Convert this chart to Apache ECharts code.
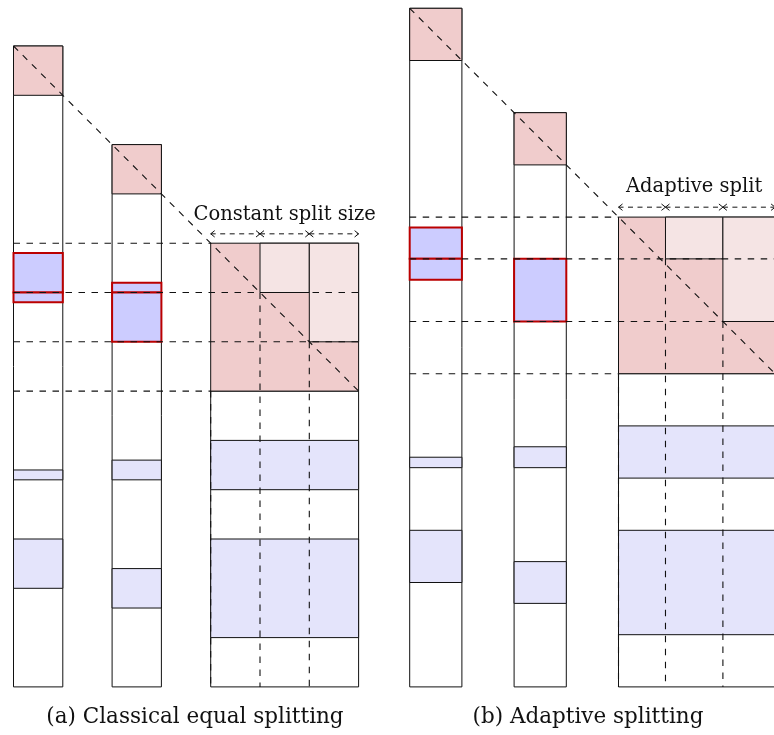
<!DOCTYPE html>
<html>
<head>
<meta charset="utf-8">
<script src="https://cdn.jsdelivr.net/npm/echarts@6/dist/echarts.min.js"></script>
<style>
html,body{margin:0;padding:0;background:#fff;}
#chart{width:774px;height:735px;}
</style>
</head>
<body>
<div id="chart"></div>
<script>
// ---------- data (diagram units: one block = 1) ----------
const columnHeight = 13;
const vectorColumns = [[0, 1], [2, 3]];          // x extent of the two vectors
const diagonalBlocks = [[0, 1], [2, 3]];         // pink diagonal blocks (also where each vector starts)
const matrixSpan = [4, 7];                       // x extent of the matrix
const vector1Bands = [[8.6, 8.8], [10, 11]];
const vector2Bands = [[8.4, 8.8], [10.6, 11.4]];
const matrixBands = [[8, 9], [10, 12]];

// panel (a) : classical equal splitting
const aRowSplits = [4, 5, 6, 7];
const aColSplits = [4, 5, 6, 7];
const aRed1 = [[4.2, 5], [5, 5.2]];
const aRed2 = [[4.8, 5], [5, 6]];

// panel (b) : adaptive splitting
const bRowSplits = [4, 4.8, 6, 7];
const bColSplits = [4, 4.9, 6, 7];
const bRed1 = [[4.2, 4.8], [4.8, 5.2]];
const bRed2 = [[4.8, 6]];

const splitLabels = ['Constant split size', 'Adaptive split'];
const splitLabelX = [5.5, 5.45];
const splitLabelY = 3.43;
const arrowY = 3.81;
const captions = ['(a) Classical equal splitting', '(b) Adaptive splitting'];

// ---------- styles ----------
const INK = '#111';
const FONT = '"DejaVu Serif", serif';
const C_PINK = '#f0cccc', C_LIGHT = '#f5e4e4', C_BAND = '#e4e4fb', C_RED_FILL = '#ccccff', C_RED = '#bb0000';

function rectRender(fill, stroke, lw) {
  return function (params, api) {
    const p0 = api.coord([api.value(0), api.value(2)]);
    const p1 = api.coord([api.value(1), api.value(3)]);
    return {
      type: 'rect',
      shape: { x: Math.min(p0[0], p1[0]), y: Math.min(p0[1], p1[1]),
               width: Math.abs(p1[0] - p0[0]), height: Math.abs(p1[1] - p0[1]) },
      style: { fill: fill, stroke: stroke, lineWidth: lw }
    };
  };
}
function dashRender(params, api) {
  const p0 = api.coord([api.value(0), api.value(1)]);
  const p1 = api.coord([api.value(2), api.value(3)]);
  return { type: 'line', shape: { x1: p0[0], y1: p0[1], x2: p1[0], y2: p1[1] },
           style: { stroke: INK, lineWidth: 1.1, lineDash: [6.5, 6.5] } };
}
function arrowRender(params, api) {
  const a = api.coord([api.value(0), api.value(2)]);
  const b = api.coord([api.value(1), api.value(2)]);
  const y = a[1], h = 3.2, w = 4;
  const st = { stroke: INK, lineWidth: 1, fill: null };
  return { type: 'group', children: [
    { type: 'line', shape: { x1: a[0], y1: y, x2: b[0], y2: y }, style: Object.assign({ lineDash: [5, 4.5] }, st) },
    { type: 'polyline', shape: { points: [[a[0] + w, y - h], [a[0], y], [a[0] + w, y + h]] }, style: st },
    { type: 'polyline', shape: { points: [[b[0] - w, y - h], [b[0], y], [b[0] - w, y + h]] }, style: st }
  ]};
}
function textRender(label) {
  return function (params, api) {
    const p = api.coord([api.value(0), api.value(1)]);
    return { type: 'text', x: p[0], y: p[1],
             style: { text: label, fill: INK, font: '19.5px ' + FONT, align: 'center', verticalAlign: 'middle' } };
  };
}

function panel(g, rowS, colS, red1, red2, label, labelX) {
  const whites = vectorColumns.map((c, i) => [c[0], c[1], diagonalBlocks[i][0], columnHeight]);
  whites.push([matrixSpan[0], matrixSpan[1], rowS[3], columnHeight]);
  const pinks = diagonalBlocks.map((b, i) => [vectorColumns[i][0], vectorColumns[i][1], b[0], b[1]]);
  const bands = vector1Bands.map(b => [vectorColumns[0][0], vectorColumns[0][1], b[0], b[1]])
    .concat(vector2Bands.map(b => [vectorColumns[1][0], vectorColumns[1][1], b[0], b[1]]))
    .concat(matrixBands.map(b => [matrixSpan[0], matrixSpan[1], b[0], b[1]]));
  const matPink = [[colS[0], colS[3], rowS[0], rowS[3]]];
  const matLight = [[colS[1], colS[2], rowS[0], rowS[1]], [colS[2], colS[3], rowS[0], rowS[2]]];
  const reds = red1.map(r => [vectorColumns[0][0], vectorColumns[0][1], r[0], r[1]])
    .concat(red2.map(r => [vectorColumns[1][0], vectorColumns[1][1], r[0], r[1]]));
  const dashes = [
    [0, 0, colS[3], rowS[3]],
    [0, rowS[0], colS[0], rowS[0]],
    [0, rowS[1], colS[3], rowS[1]],
    [0, rowS[2], colS[3], rowS[2]],
    [0, rowS[3], colS[0], rowS[3]],
    [colS[1], rowS[1], colS[1], columnHeight],
    [colS[2], rowS[2], colS[2], columnHeight],
    [colS[0], rowS[3], colS[0], columnHeight]
  ];
  const arrows = [[colS[0], colS[1], arrowY], [colS[1], colS[2], arrowY], [colS[2], colS[3], arrowY]];
  const base = { type: 'custom', xAxisIndex: g, yAxisIndex: g, clip: false, silent: true, animation: false };
  return [
    Object.assign({}, base, { z: 1, data: whites, renderItem: rectRender('#fff', INK, 1) }),
    Object.assign({}, base, { z: 2, data: pinks, renderItem: rectRender(C_PINK, INK, 1) }),
    Object.assign({}, base, { z: 2, data: bands, renderItem: rectRender(C_BAND, INK, 1) }),
    Object.assign({}, base, { z: 2, data: matPink, renderItem: rectRender(C_PINK, INK, 1) }),
    Object.assign({}, base, { z: 3, data: matLight, renderItem: rectRender(C_LIGHT, INK, 1) }),
    Object.assign({}, base, { z: 4, data: reds, renderItem: rectRender(C_RED_FILL, C_RED, 2) }),
    Object.assign({}, base, { z: 5, data: dashes, renderItem: dashRender }),
    Object.assign({}, base, { z: 5, data: arrows, renderItem: arrowRender }),
    Object.assign({}, base, { z: 6, data: [[labelX, splitLabelY]], renderItem: textRender(label) })
  ];
}

const chart = echarts.init(document.getElementById('chart'), null, { renderer: 'canvas' });
const uA = 49.3, uB = 52.2;
chart.setOption({
  backgroundColor: '#fff',
  animation: false,
  grid: [
    { left: 13.5, top: 46, width: 7 * uA, height: columnHeight * uA, outerBoundsMode: 'none' },
    { left: 409.7, top: 8.3, width: 7 * uB, height: columnHeight * uB, outerBoundsMode: 'none' }
  ],
  xAxis: [
    { gridIndex: 0, type: 'value', min: 0, max: 7, show: false },
    { gridIndex: 1, type: 'value', min: 0, max: 7, show: false }
  ],
  yAxis: [
    { gridIndex: 0, type: 'value', min: 0, max: columnHeight, inverse: true, show: false },
    { gridIndex: 1, type: 'value', min: 0, max: columnHeight, inverse: true, show: false }
  ],
  graphic: [
    { type: 'text', x: 195, y: 717, style: { text: captions[0], fill: INK, font: '21.5px ' + FONT, align: 'center', verticalAlign: 'middle' } },
    { type: 'text', x: 588, y: 717, style: { text: captions[1], fill: INK, font: '21.5px ' + FONT, align: 'center', verticalAlign: 'middle' } }
  ],
  series: panel(0, aRowSplits, aColSplits, aRed1, aRed2, splitLabels[0], splitLabelX[0])
    .concat(panel(1, bRowSplits, bColSplits, bRed1, bRed2, splitLabels[1], splitLabelX[1]))
});
</script>
</body>
</html>
